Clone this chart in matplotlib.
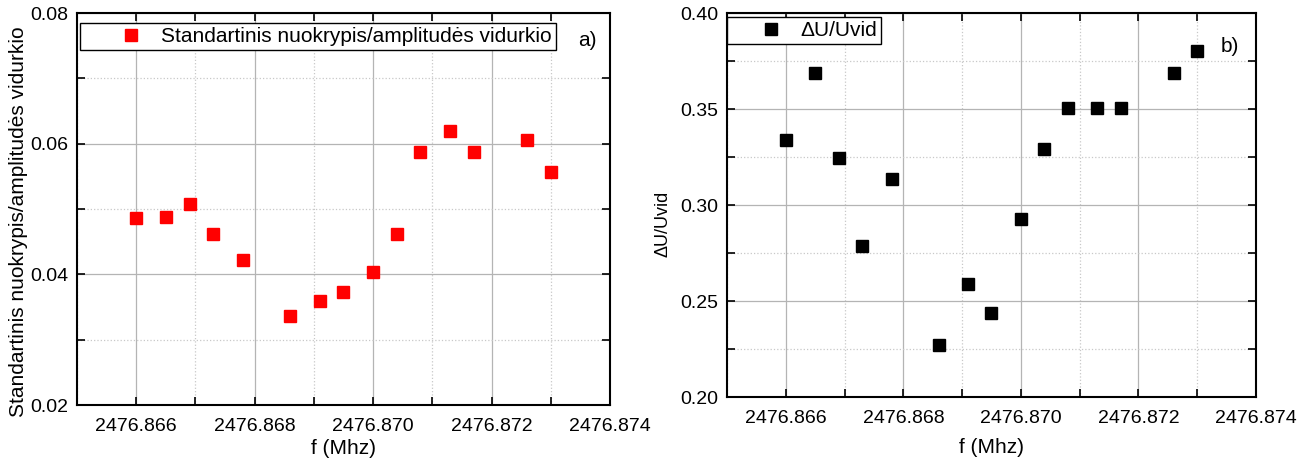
import matplotlib
matplotlib.use("Agg")
import matplotlib.pyplot as plt
from matplotlib.ticker import MultipleLocator, FormatStrFormatter
from matplotlib.legend_handler import HandlerLine2D

plt.rcParams['font.family'] = ['Liberation Sans', 'DejaVu Sans']

# frequency points (MHz), shared by both panels
freq = [2476.8660, 2476.8665, 2476.8669, 2476.8673, 2476.8678,
        2476.8686, 2476.8691, 2476.8695, 2476.8700, 2476.8704,
        2476.8708, 2476.8713, 2476.8717, 2476.8726, 2476.8730]

# a) standard deviation / mean amplitude
std_ratio = [0.0486, 0.0487, 0.0507, 0.0462, 0.0422,
             0.0336, 0.0359, 0.0373, 0.0403, 0.0462,
             0.0587, 0.0619, 0.0587, 0.0606, 0.0557]

# b) dU / Umean
du_ratio = [0.3336, 0.3687, 0.3246, 0.2785, 0.3133,
            0.2272, 0.2588, 0.2438, 0.2927, 0.3294,
            0.3503, 0.3503, 0.3503, 0.3687, 0.3801]

W, H = 1310, 461
fig = plt.figure(figsize=(W / 100, H / 100), dpi=100)


def px_axes(x0, y0, x1, y1):
    return fig.add_axes([x0 / W, (H - y1) / H, (x1 - x0) / W, (y1 - y0) / H])


def style(ax, ymin, ymax, ymaj, ymin_step):
    ax.set_xlim(2476.865, 2476.874)
    ax.set_ylim(ymin, ymax)
    ax.xaxis.set_major_locator(MultipleLocator(0.002))
    ax.xaxis.set_minor_locator(MultipleLocator(0.001))
    ax.yaxis.set_major_locator(MultipleLocator(ymaj))
    ax.yaxis.set_minor_locator(MultipleLocator(ymin_step))
    ax.xaxis.set_major_formatter(FormatStrFormatter('%.3f'))
    ax.yaxis.set_major_formatter(FormatStrFormatter('%.2f'))
    ax.grid(which='major', color='#b4b4b4', linestyle='-', linewidth=0.9)
    ax.grid(which='minor', color='#c8c8c8', linestyle=':', linewidth=0.9)
    ax.set_axisbelow(True)
    ax.tick_params(which='both', direction='in', top=True, right=True,
                   length=5.5, width=1.2, labelsize=14)
    ax.tick_params(axis='x', which='both', pad=9)
    ax.tick_params(axis='y', which='both', pad=6)
    for s in ax.spines.values():
        s.set_linewidth(1.5)


# ---- panel a)
ax1 = px_axes(77, 13, 610, 405)
style(ax1, 0.02, 0.08, 0.02, 0.01)
ax1.plot(freq, std_ratio, 's', color='#ff0000', markersize=8, linestyle='none',
         label='Standartinis nuokrypis/amplitudės vidurkio')
ax1.set_xlabel('f (Mhz)', fontsize=15, labelpad=3)
ax1.set_ylabel('Standartinis nuokrypis/amplitudės vidurkio', fontsize=15)
ax1.yaxis.set_label_coords(-0.092, 0.468)
ax1.legend(loc='upper left', bbox_to_anchor=(0.006, 0.975), fontsize=15,
           fancybox=False, edgecolor='black', framealpha=1, borderpad=0.2,
           handlelength=3.4, handletextpad=0.3, borderaxespad=0,
           handler_map={ax1.get_lines()[0]: HandlerLine2D(numpoints=1, xpad=1.1)})
ax1.get_legend().get_frame().set_linewidth(1.0)
ax1.text(0.958, 0.93, 'a)', transform=ax1.transAxes, fontsize=15,
         ha='center', va='center')

# ---- panel b)
ax2 = px_axes(727, 13, 1256, 397)
style(ax2, 0.20, 0.40, 0.05, 0.025)
ax2.plot(freq, du_ratio, 's', color='black', markersize=8, linestyle='none',
         label='ΔU/Uvid')
ax2.set_xlabel('f (Mhz)', fontsize=15, labelpad=8)
ax2.set_ylabel('ΔU/Uvid', fontsize=13)
ax2.yaxis.set_label_coords(-0.105, 0.45)
ax2.legend(loc='upper left', bbox_to_anchor=(0.0, 0.99), fontsize=15,
           fancybox=False, edgecolor='black', framealpha=1, borderpad=0.2,
           handlelength=3.0, handletextpad=0.3, borderaxespad=0,
           handler_map={ax2.get_lines()[0]: HandlerLine2D(numpoints=1, xpad=0.82)})
ax2.get_legend().get_frame().set_linewidth(1.0)
ax2.text(0.95, 0.913, 'b)', transform=ax2.transAxes, fontsize=15,
         ha='center', va='center')

fig.savefig('out.png', dpi=100)
